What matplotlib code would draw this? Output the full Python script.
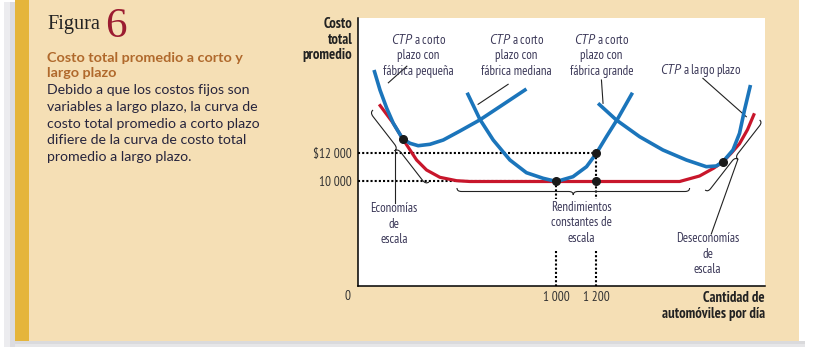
import numpy as np
import matplotlib
matplotlib.use("Agg")
import matplotlib.pyplot as plt
from matplotlib import font_manager
from matplotlib.patches import Rectangle, PathPatch
from matplotlib.path import Path
from matplotlib.transforms import Affine2D, IdentityTransform

# ---- data (x: cars per day, y: average total cost) ----
lrac_x = [109, 180, 227, 264, 297, 347, 414, 498, 565, 1619, 1719, 1790, 1836, 1880, 1920, 1960, 1995]
lrac_y = [15512, 14155, 13050, 12249, 11535, 10821, 10300, 10057, 10000, 10000, 10393, 10950,
          11400, 12050, 12700, 13700, 14870]

small_x = [83, 113, 147, 180, 227, 264, 305, 364, 431, 515, 614, 715, 849]
small_y = [17961, 16533, 15226, 14155, 13050, 12727, 12556, 12656, 12963, 13606, 14391, 15341, 16605]

medium_x = [551, 615, 682, 766, 849, 933, 1000, 1083, 1151, 1200, 1251, 1309, 1382]
medium_y = [16340, 14441, 12963, 11535, 10628, 10228, 10000, 10343, 11057, 12000, 13199, 14512, 16340]

large_x = [1209, 1301, 1418, 1535, 1653, 1753, 1803, 1836, 1887, 1920, 1945, 1975]
large_y = [15583, 14391, 13199, 12249, 11535, 11057, 11107, 11400, 12249, 13441, 15105, 16890]

dots_x = [227, 1000, 1200, 1200, 1836]
dots_y = [13050, 10000, 12000, 10000, 11400]

ytick_vals = [10000, 12000]
ytick_labels = ["10 000", "$12 000"]
xtick_vals = [1000, 1200]
xtick_labels = ["1 000", "1 200"]

W, H = 819, 349
TAN = "#f5dfb5"
GOLD = "#e5b53b"
BLUE = "#1b75bb"
RED = "#c8162b"
LABEL = "#3b3858"

names = {f.name for f in font_manager.fontManager.ttflist}


def pick(cands, default):
    for c in cands:
        if c in names:
            return c
    return default


NARROW = pick(["PT Sans Narrow", "Fira Sans Condensed", "Asap Condensed", "Roboto Condensed",
               "Archivo Narrow", "Liberation Sans Narrow"], "DejaVu Sans")
NARROW_IT = pick(["PT Sans", "Fira Sans Condensed", "Asap Condensed"], "DejaVu Sans")
SANS = pick(["Lato"], "DejaVu Sans")
SERIF = pick(["Liberation Serif"], "DejaVu Serif")

plt.rcParams["mathtext.fontset"] = "custom"
plt.rcParams["mathtext.rm"] = NARROW
plt.rcParams["mathtext.it"] = NARROW_IT + ":italic"
plt.rcParams["mathtext.bf"] = NARROW + ":bold"

fig = plt.figure(figsize=(W / 100, H / 100), dpi=100, facecolor="white")
px = Affine2D().scale(1, -1).translate(0, H)  # image pixels -> display

# panel background, gold strip and soft shadow (behind the axes)
bg = dict(transform=px, lw=0, zorder=-5)
fig.add_artist(Rectangle((4, 2), 12, 345, color="#ececef", **bg))
fig.add_artist(Rectangle((10, 2), 6, 345, color="#dcdce0", **bg))
fig.add_artist(Rectangle((15, 341), 790, 6, color="#e6e6e8", **bg))
fig.add_artist(Rectangle((15, 341), 790, 3, color="#dadadc", **bg))
fig.add_artist(Rectangle((29, 0), 770, 341, color=TAN, **bg))
fig.add_artist(Rectangle((15, 0), 14, 341, color=GOLD, **bg))

# left column text
fig.text(47 / W, 1 - 29.5 / H, "Figura", family=SERIF, size=14.6, color="#222", va="baseline")
fig.text(105 / W, 1 - 37 / H, "6", family=SERIF, size=31, color="#9b1c31", va="baseline")
title = ["Costo total promedio a corto y", "largo plazo"]
for i, line in enumerate(title):
    fig.text(47 / W, 1 - (57.5 + 15.5 * i) / H, line, family=SANS, weight="bold",
             size=10.4, color="#b0692c", va="center")
body = ["Debido a que los costos fijos son", "variables a largo plazo, la curva de",
        "costo total promedio a corto plazo", "difiere de la curva de costo total",
        "promedio a largo plazo."]
for i, line in enumerate(body):
    fig.text(47 / W, 1 - (90.5 + 16.6 * i) / H, line, family=SANS, size=10.2,
             color="#27253d", va="center")

# ---- chart ----
ax = fig.add_axes([357.5 / W, (H - 285.5) / H, (765 - 357.5) / W, (285.5 - 17.5) / H])
ax.set_facecolor("white")
ax.set_xlim(0, 2048)
ax.set_ylim(2574, 21710)
for s in ["top", "right"]:
    ax.spines[s].set_visible(False)
for s in ["left", "bottom"]:
    ax.spines[s].set_linewidth(1.1)
ax.set_yticks(ytick_vals)
ax.set_yticklabels(ytick_labels, family=NARROW, size=9.5, color="#333")
ax.set_xticks(xtick_vals)
ax.set_xticklabels(xtick_labels, family=NARROW, size=9.5, color="#333")
ax.tick_params(length=0, pad=4)
ax.annotate("0", xy=(0, 2574), xytext=(-7, -8), textcoords="offset points", ha="center",
            va="center", family=NARROW, size=9.5, color="#333", annotation_clip=False)

# dotted guides
dot = dict(color="black", lw=1.5, ls=(0, (1, 1)), zorder=1)
ax.plot([0, 1200], [12000, 12000], **dot)
ax.plot([0, 1000], [10000, 10000], **dot)
for xv, yv in [(1000, 10000), (1200, 12000)]:
    ax.plot([xv, xv], [yv, 8750], **dot)
    ax.plot([xv, xv], [5038, 2574], **dot)

ax.plot(lrac_x, lrac_y, color=RED, lw=2.3, solid_capstyle="butt", zorder=3)
ax.plot(small_x, small_y, color=BLUE, lw=2.6, solid_capstyle="butt", zorder=4)
ax.plot(medium_x, medium_y, color=BLUE, lw=2.6, solid_capstyle="butt", zorder=4)
ax.plot(large_x, large_y, color=BLUE, lw=2.6, solid_capstyle="butt", zorder=4)
ax.plot(dots_x, dots_y, "o", color="#1a1a1a", ms=5.5, zorder=5)


def brace(p1, p2, depth, side):
    a = ax.transData.transform(p1)
    b = ax.transData.transform(p2)
    d = b - a
    L = np.hypot(*d)
    u = d / L
    n = np.array([-u[1], u[0]]) * side
    h = depth / 2
    r = min(h * 1.3, L / 6)
    local = [(0, 0), (0, h), (r, h), (L / 2 - r, h), (L / 2, h), (L / 2, 2 * h),
             (L / 2, h), (L / 2 + r, h), (L - r, h), (L, h), (L, 0)]
    codes = [Path.MOVETO, Path.CURVE3, Path.CURVE3, Path.LINETO, Path.CURVE3, Path.CURVE3,
             Path.CURVE3, Path.CURVE3, Path.LINETO, Path.CURVE3, Path.CURVE3]
    pts = [a + x * u + y * n for x, y in local]
    ax.add_artist(PathPatch(Path(pts, codes), transform=IdentityTransform(), fill=False,
                            lw=0.8, edgecolor="#222", clip_on=False))
    tip = a + L / 2 * u + 2 * h * n
    return ax.transData.inverted().transform(tip)


thin = dict(color="#222", lw=0.8)
t1 = brace((78, 15105), (359, 9964), 8, -1)
ax.plot([t1[0], t1[0]], [t1[1], 8465], **thin)
brace((500, 9536), (1669, 9536), 7, -1)
t3 = brace((2021, 14391), (1747, 9393), 7, 1)
ax.plot([t3[0], 1778], [t3[1], 6252], **thin)

# leader lines for the curve labels
ax.plot([248, 155], [18233, 17047], **thin)
ax.plot([757, 606], [16940, 15512], **thin)
ax.plot([1226, 1234], [17247, 15583], **thin)
ax.plot([1736, 1954], [17368, 14626], **thin)

lab = dict(family=NARROW, size=9.2, color=LABEL, ha="center", va="center", linespacing=1.25)
ax.text(305, 19032, "$CTP$ a corto\nplazo con\nfábrica pequeña", **lab)
ax.text(799, 19032, "$CTP$ a corto\nplazo con\nfábrica mediana", **lab)
ax.text(1227, 19032, "$CTP$ a corto\nplazo con\nfábrica grande", **lab)
ax.text(1727, 17904, "$CTP$ a largo plazo", **lab)
ax.text(183, 6944, "Economías\nde\nescala", **lab)
ax.text(1125, 7051, "Rendimientos\nconstantes de\nescala", **lab)
ax.text(1760, 4788, "Deseconomías\nde\nescala", **lab)

fig.text(352.4 / W, 1 - 39.5 / H, "Costo\ntotal\npromedio", family=NARROW, weight="bold",
         size=10.5, color="#222", ha="right", va="center", linespacing=1.15)
fig.text(765 / W, 1 - 305.6 / H, "Cantidad de\nautomóviles por día", family=NARROW,
         weight="bold", size=10.5, color="#222", ha="right", va="center", linespacing=1.2)

fig.savefig("out.png", dpi=100)
